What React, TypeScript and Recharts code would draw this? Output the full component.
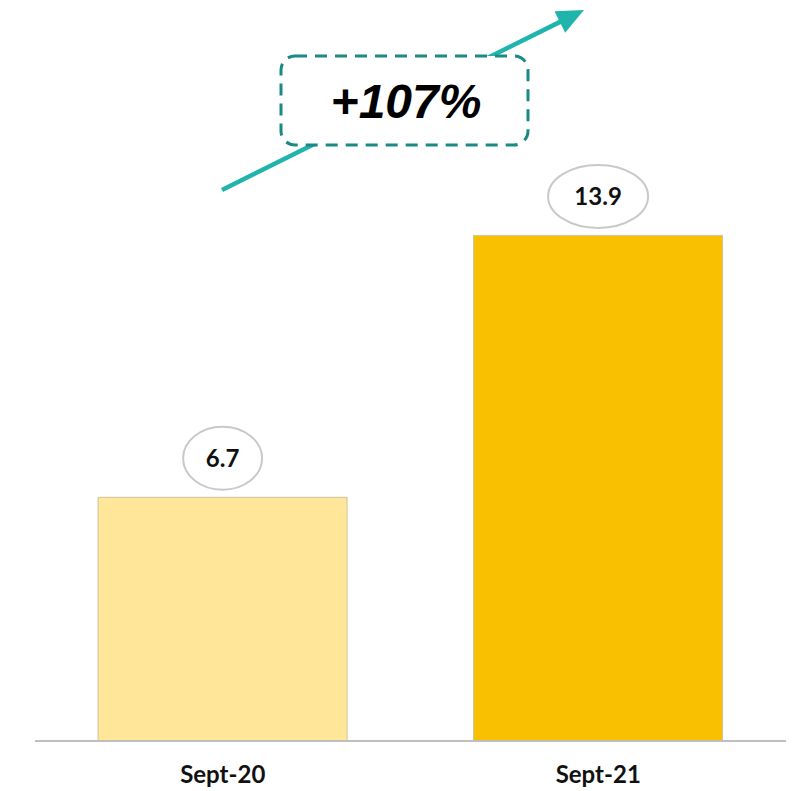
import React from 'react';
import { BarChart, Bar, XAxis, YAxis, Cell, LabelList, Customized } from 'recharts';

const categories = ['Sept-20', 'Sept-21'];
const values = [6.7, 13.9];
const barColors = ['#FFE699', '#F8C000'];
const growthLabel = '+107%';

const chartData = categories.map((name, i) => ({ name, value: values[i] }));

// bubble label above each bar
const renderBubble = (props: any) => {
    const { x, y, width, value } = props;
    const text = String(value);
    const cx = Number(x) + Number(width) / 2;
    const cy = Number(y) - 39;
    const rx = 8 + text.length * 10.5;
    return (
        <g>
            <ellipse cx={cx} cy={cy} rx={rx} ry={31.5} fill="#fff" stroke="#c9c9c9" strokeWidth={2} />
            <text x={cx} y={cy + 8.5} textAnchor="middle" fontFamily="Lato, 'Open Sans', sans-serif" fontWeight={700} fontSize={24} fill="#111">
                {text}
            </text>
        </g>
    );
};

const renderTick = (props: any) => {
    const { x, y, payload } = props;
    return (
        <text x={x} y={y + 34} textAnchor="middle" fontFamily="Lato, 'Open Sans', sans-serif" fontWeight={700} fontSize={24} fill="#111">
            {payload.value}
        </text>
    );
};

// growth arrow with dashed callout box
const GrowthArrow = () => {
    const x1 = 222, y1 = 190, x2 = 584, y2 = 10;
    const len = Math.hypot(x2 - x1, y2 - y1);
    const ux = (x2 - x1) / len, uy = (y2 - y1) / len;
    const hl = 27, hw = 12;
    const bx = x2 - ux * hl, by = y2 - uy * hl;
    const head = `${x2},${y2} ${bx - uy * hw},${by + ux * hw} ${bx + uy * hw},${by - ux * hw}`;
    return (
        <g>
            <line x1={x1} y1={y1} x2={bx + ux * 2} y2={by + uy * 2} stroke="#20B5AC" strokeWidth={4.5} />
            <polygon points={head} fill="#20B5AC" />
            <rect x={281} y={56} width={247} height={89} rx={14} ry={14} fill="#fff" stroke="#1B8A85" strokeWidth={3} strokeDasharray="12 8" />
            <text x={406} y={118} textAnchor="middle" fontFamily="'Liberation Sans', Arial, sans-serif" fontWeight={700} fontStyle="italic" fontSize={48} fill="#000">
                {growthLabel}
            </text>
        </g>
    );
};

export default function App() {
    return (
        <div style={{ position: 'absolute', left: 0, top: 0, width: 793, height: 791, background: '#fff' }}>
            <BarChart width={793} height={791} data={chartData} margin={{ top: 159, right: 7, bottom: 0, left: 35 }} barCategoryGap="16.8%">
                <XAxis dataKey="name" height={50} tickLine={false} axisLine={{ stroke: '#BFBFBF', strokeWidth: 2 }} tick={renderTick} />
                <YAxis hide domain={[0, 16]} />
                <Customized component={<GrowthArrow />} />
                <Bar dataKey="value" isAnimationActive={false} stroke="#CFC39A" strokeWidth={1}>
                    {chartData.map((d, i) => (
                        <Cell key={d.name} fill={barColors[i]} />
                    ))}
                    <LabelList dataKey="value" content={renderBubble} />
                </Bar>
            </BarChart>
        </div>
    );
}
